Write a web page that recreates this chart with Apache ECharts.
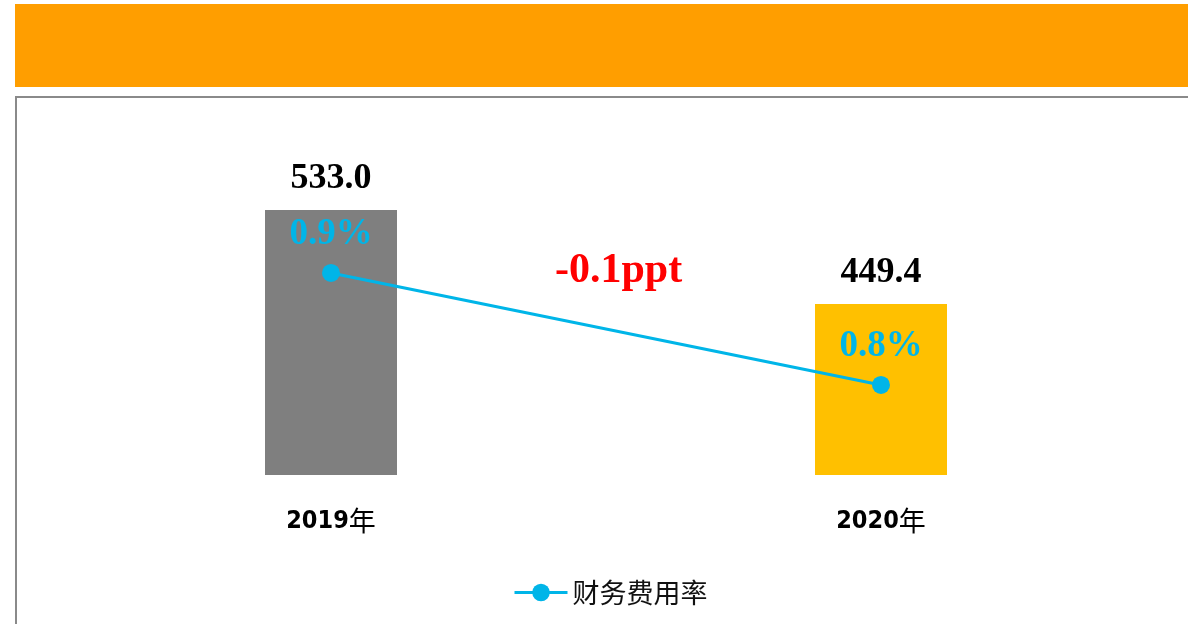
<!DOCTYPE html>
<html>
<head>
<meta charset="utf-8">
<script src="https://cdn.jsdelivr.net/npm/echarts@6/dist/echarts.min.js"></script>
<style>
html,body{margin:0;padding:0;background:#fff;}
#c{width:1188px;height:624px;}
</style>
</head>
<body>
<div id="c"></div>
<script>
const categories = ['2019年', '2020年'];
const expenseValues = [533.0, 449.4];
const rateValues = [0.9, 0.8];
const rateSeriesName = '财务费用率';
const changeText = '-0.1ppt';

const barPalette = ['#7f7f7f', '#ffc000'];
const chart = echarts.init(document.getElementById('c'));
chart.setOption({
  animation: false,
  backgroundColor: '#ffffff',
  graphic: [
    { type: 'rect', shape: { x: 15, y: 4, width: 1200, height: 83 }, style: { fill: '#ff9e00' }, z: 0 },
    { type: 'rect', shape: { x: 16, y: 97, width: 1200, height: 600 }, style: { fill: '#ffffff', stroke: '#8a8a8a', lineWidth: 2 }, z: 0 },
    { type: 'text', left: 555, top: 250, style: { text: changeText, fill: '#ff0000', font: 'bold 42px "Liberation Serif"' }, z: 10 }
  ],
  grid: { left: 56, right: 32, top: 100, bottom: 149 },
  legend: {
    data: [rateSeriesName],
    left: 508, top: 574,
    itemWidth: 53, itemHeight: 22, itemGap: 6,
    lineStyle: { width: 3 },
    textStyle: { fontSize: 27, fontFamily: '"Noto Sans CJK SC"', color: '#111' }
  },
  xAxis: {
    type: 'category',
    data: categories,
    axisLine: { show: false },
    axisTick: { show: false },
    axisLabel: {
      margin: 31,
      formatter: function (v) { return '{n|' + v.replace('年', '') + '}{c|年}'; },
      rich: {
        n: { fontFamily: 'DejaVu Sans Condensed', fontWeight: 'bold', fontSize: 25, color: '#000', lineHeight: 30 },
        c: { fontFamily: 'Noto Sans CJK SC', fontSize: 27, color: '#000', lineHeight: 30 }
      }
    }
  },
  yAxis: [
    { type: 'value', min: 297, max: 631, show: false, splitLine: { show: false } },
    { type: 'value', min: 0.7196, max: 1.0544, show: false, splitLine: { show: false } }
  ],
  series: [
    {
      type: 'bar',
      name: '金额',
      data: expenseValues,
      barWidth: '24%',
      yAxisIndex: 0,
      itemStyle: { color: function (p) { return barPalette[p.dataIndex]; } },
      label: {
        show: true, position: 'top', distance: 13,
        formatter: function (p) { return p.value.toFixed(1); },
        fontFamily: 'Liberation Serif', fontWeight: 'bold', fontSize: 36, color: '#000'
      }
    },
    {
      type: 'line',
      name: rateSeriesName,
      data: rateValues,
      yAxisIndex: 1,
      symbol: 'circle',
      symbolSize: 18,
      lineStyle: { color: '#00b5e8', width: 3 },
      itemStyle: { color: '#00b5e8' },
      label: {
        show: true, position: 'top', distance: 11,
        formatter: function (p) { return p.value.toFixed(1) + '%'; },
        fontFamily: 'Liberation Serif', fontWeight: 'bold', fontSize: 37, color: '#00b5e8'
      }
    }
  ]
});
</script>
</body>
</html>
